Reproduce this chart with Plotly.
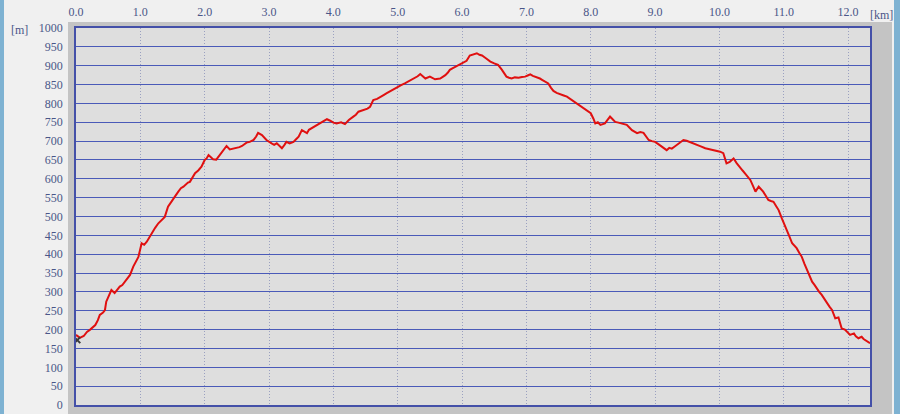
import plotly.graph_objects as go

distance_km = [0.00, 0.06, 0.12, 0.17, 0.22, 0.30, 0.34, 0.37, 0.42, 0.45, 0.47, 0.50, 0.55, 0.60, 0.64, 0.68, 0.72, 0.76, 0.80, 0.84,
               0.89, 0.93, 0.97, 1.02, 1.06, 1.10, 1.14, 1.18, 1.23, 1.28, 1.33, 1.38, 1.43, 1.47, 1.51, 1.55, 1.59, 1.63, 1.67, 1.70,
               1.74, 1.77, 1.81, 1.85, 1.90, 1.95, 2.00, 2.03, 2.06, 2.10, 2.13, 2.18, 2.22, 2.26, 2.30, 2.34, 2.39, 2.44, 2.50, 2.54,
               2.58, 2.65, 2.70, 2.76, 2.80, 2.83, 2.89, 2.93, 2.96, 3.04, 3.08, 3.12, 3.16, 3.20, 3.24, 3.27, 3.32, 3.38, 3.42, 3.46,
               3.51, 3.55, 3.59, 3.62, 3.66, 3.72, 3.77, 3.83, 3.90, 3.95, 4.00, 4.05, 4.12, 4.18, 4.24, 4.31, 4.35, 4.39, 4.47, 4.53,
               4.57, 4.62, 4.68, 4.73, 4.78, 4.83, 4.88, 4.93, 5.01, 5.06, 5.11, 5.16, 5.22, 5.26, 5.31, 5.35, 5.39, 5.43, 5.50, 5.54,
               5.58, 5.66, 5.70, 5.74, 5.78, 5.81, 5.85, 5.89, 5.93, 5.97, 6.02, 6.07, 6.12, 6.17, 6.23, 6.27, 6.31, 6.36, 6.40, 6.44,
               6.50, 6.56, 6.62, 6.66, 6.69, 6.73, 6.77, 6.82, 6.88, 6.93, 6.98, 7.02, 7.06, 7.10, 7.14, 7.21, 7.25, 7.29, 7.34, 7.38,
               7.42, 7.47, 7.52, 7.58, 7.63, 7.67, 7.71, 7.78, 7.84, 7.89, 7.95, 8.00, 8.04, 8.07, 8.11, 8.15, 8.22, 8.26, 8.30, 8.34,
               8.38, 8.43, 8.48, 8.56, 8.60, 8.64, 8.72, 8.77, 8.82, 8.86, 8.90, 8.95, 9.00, 9.05, 9.10, 9.18, 9.22, 9.26, 9.30, 9.34,
               9.40, 9.44, 9.49, 9.54, 9.60, 9.65, 9.71, 9.78, 9.84, 9.91, 9.96, 10.01, 10.06, 10.09, 10.11, 10.16, 10.22, 10.27, 10.32, 10.36,
               10.40, 10.44, 10.48, 10.52, 10.56, 10.61, 10.65, 10.68, 10.72, 10.76, 10.80, 10.84, 10.88, 10.92, 10.97, 11.01, 11.05, 11.09, 11.13, 11.17,
               11.20, 11.24, 11.28, 11.32, 11.36, 11.40, 11.44, 11.48, 11.51, 11.55, 11.59, 11.63, 11.67, 11.71, 11.75, 11.80, 11.85, 11.88, 11.90, 11.95,
               11.99, 12.03, 12.09, 12.12, 12.16, 12.21, 12.24, 12.27, 12.31, 12.34]

elevation_m = [186, 178, 183, 194, 200, 212, 225, 239, 245, 252, 274, 285, 305, 297, 305, 314, 318, 327, 335, 345,
               367, 380, 393, 429, 425, 433, 445, 455, 470, 482, 490, 499, 526, 535, 544, 556, 566, 575, 579, 584,
               590, 592, 605, 615, 622, 632, 650, 654, 663, 655, 652, 651, 660, 668, 675, 687, 678, 680, 681, 684,
               687, 696, 698, 703, 712, 722, 716, 708, 703, 694, 690, 694, 688, 681, 690, 698, 694, 698, 705, 712,
               729, 725, 721, 730, 734, 738, 743, 750, 758, 754, 749, 747, 750, 745, 756, 765, 770, 778, 782, 786,
               791, 809, 812, 818, 822, 827, 832, 836, 846, 849, 853, 858, 864, 866, 872, 878, 872, 866, 871, 868,
               864, 866, 870, 875, 882, 889, 893, 897, 900, 904, 908, 913, 927, 930, 933, 929, 927, 921, 916, 911,
               906, 902, 889, 880, 871, 868, 866, 869, 868, 870, 871, 874, 877, 873, 871, 866, 862, 858, 853, 842,
               833, 828, 824, 821, 818, 813, 809, 800, 793, 787, 780, 774, 760, 747, 750, 743, 747, 755, 765, 758,
               751, 749, 747, 743, 736, 729, 721, 724, 722, 712, 703, 700, 698, 692, 685, 676, 682, 680, 685, 690,
               698, 703, 701, 698, 694, 690, 686, 681, 679, 676, 674, 672, 668, 650, 641, 645, 654, 641, 632, 622,
               614, 606, 597, 582, 566, 579, 572, 566, 555, 544, 541, 539, 528, 517, 495, 480, 464, 446, 429, 422,
               416, 404, 393, 375, 358, 342, 327, 318, 309, 300, 292, 281, 270, 261, 252, 230, 232, 215, 203, 200,
               192, 186, 190, 182, 177, 181, 175, 172, 168, 164]

x_ticks = [0, 1, 2, 3, 4, 5, 6, 7, 8, 9, 10, 11, 12]
x_tick_labels = ["0.0", "1.0", "2.0", "3.0", "4.0", "5.0", "6.0", "7.0", "8.0", "9.0", "10.0", "11.0", "12.0"]
y_ticks = list(range(0, 1001, 50))
start_point_km = [0.02]
start_point_m = [172]

W, H = 900, 414
L, R, T, B = 76, 30, 28, 9
pw, ph = W - L - R, H - T - B


def px2x(px):
    return (px - L) / pw


def py2y(py):
    return (H - B - py) / ph


tick_font = dict(family="Liberation Serif", size=12, color="#4a5688")

fig = go.Figure()
fig.add_trace(go.Scatter(x=distance_km, y=elevation_m, mode="lines",
                         line=dict(color="#e01010", width=2), hoverinfo="x+y", showlegend=False))
fig.add_trace(go.Scatter(x=start_point_km, y=start_point_m, mode="markers",
                         marker=dict(symbol="x-thin", size=6, color="#3a3a3a", line=dict(width=2, color="#3a3a3a")),
                         showlegend=False, hoverinfo="skip"))

shapes = [
    dict(type="rect", xref="paper", yref="paper", x0=px2x(68), x1=px2x(892), y0=py2y(416), y1=py2y(22),
         fillcolor="#c4c4c4", line=dict(width=0), layer="below"),
    dict(type="rect", xref="paper", yref="paper", x0=0, x1=1, y0=0, y1=1,
         fillcolor="#dedede", line=dict(width=0), layer="below"),
    dict(type="rect", xref="paper", yref="paper", x0=px2x(0), x1=px2x(4), y0=py2y(416), y1=py2y(0),
         fillcolor="#7eb2d2", line=dict(width=0), layer="below"),
    dict(type="rect", xref="paper", yref="paper", x0=px2x(894), x1=px2x(900), y0=py2y(416), y1=py2y(0),
         fillcolor="#7eb2d2", line=dict(width=0), layer="below"),
]

fig.update_layout(
    width=W, height=H,
    margin=dict(l=L, r=R, t=T, b=B, pad=0, autoexpand=False),
    paper_bgcolor="#f0f0f0",
    plot_bgcolor="rgba(0,0,0,0)",
    shapes=shapes,
    showlegend=False,
    xaxis=dict(range=[0, 12.34], side="top", tickmode="array", tickvals=x_ticks, ticktext=x_tick_labels,
               showgrid=True, gridcolor="#9aa0c0", gridwidth=1, griddash="1px,2px",
               showline=True, linecolor="#4450a8", linewidth=1.5, mirror=True,
               ticks="outside", ticklen=5, tickcolor="rgba(0,0,0,0)", automargin=False,
               tickfont=tick_font, zeroline=False, fixedrange=True),
    yaxis=dict(range=[0, 1000], tickmode="array", tickvals=y_ticks,
               showgrid=True, gridcolor="#4a5ab8", gridwidth=1,
               showline=True, linecolor="#4450a8", linewidth=1.5, mirror=True,
               ticks="outside", ticklen=9, tickcolor="rgba(0,0,0,0)", automargin=False,
               tickfont=tick_font, zeroline=False, fixedrange=True),
    annotations=[
        dict(text="[m]", xref="paper", yref="paper", x=px2x(19), y=py2y(30), showarrow=False,
             font=tick_font, xanchor="center", yanchor="middle"),
        dict(text="[km]", xref="paper", yref="paper", x=px2x(881), y=py2y(15), showarrow=False,
             font=tick_font, xanchor="center", yanchor="middle"),
    ],
)

fig.write_html("out.html", config={"displayModeBar": False, "staticPlot": False},
               post_script="document.body.style.margin='0';document.body.style.overflow='hidden';")
